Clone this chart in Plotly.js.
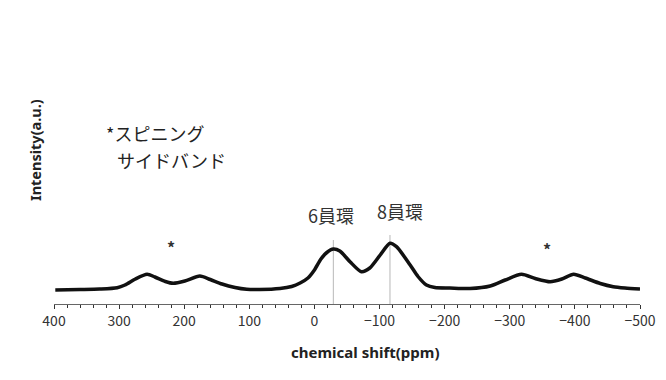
<!DOCTYPE html>
<html>
<head>
<meta charset="utf-8">
<script src="https://cdn.plot.ly/plotly-3.0.1.min.js"></script>
<style>html,body{margin:0;padding:0;background:#fff;}#chart{width:666px;height:380px;}</style>
</head>
<body>
<div id="chart"></div>
<script>
// chemical shift (ppm) and intensity (a.u.)
var shiftPpm = [398, 360, 330, 303, 291, 275, 257, 245, 229, 217, 199, 176, 160, 142, 122, 104, 84, 53, 35, 22, 10, 0, -10, -19, -29, -39, -55, -72, -85, -101, -116, -126, -147, -159, -172, -185, -208, -239, -270, -293, -318, -339, -362, -380, -398, -416, -439, -459, -477, -500];
var intensity = [14, 14.5, 15, 16.3, 19, 25, 29.7, 27, 22.5, 20.7, 23, 28, 24.5, 20, 16.5, 14.7, 14.5, 15.5, 17.5, 21, 26, 34, 45, 51.5, 55, 53, 42, 32.3, 36, 49, 60.7, 57.3, 39, 27.5, 19, 16.5, 16, 15.5, 18, 24, 29.7, 25.5, 22.3, 25, 29.7, 26, 20.5, 17.3, 16, 15];

var ringPositions = [-29, -116];
var ringLineTops = [64, 69];
var ringLabels = ['6員環', '8員環'];
var ringLabelX = [-25, -131];
var ringLabelY = [89, 93];

var sidebandMarkX = [221, -357];
var sidebandMarkY = [57, 55];

var xTickVals = [400, 300, 200, 100, 0, -100, -200, -300, -400, -500];

var traces = [];
for (var i = 0; i < ringPositions.length; i++) {
  traces.push({
    x: [ringPositions[i], ringPositions[i]],
    y: [0, ringLineTops[i]],
    mode: 'lines',
    line: {color: '#b8b8b8', width: 1},
    hoverinfo: 'skip', showlegend: false
  });
}
traces.push({
  x: shiftPpm, y: intensity, mode: 'lines',
  line: {color: '#111', width: 3.5, shape: 'spline', smoothing: 0.7},
  showlegend: false
});

var annotations = [];
for (var j = 0; j < ringLabels.length; j++) {
  annotations.push({x: ringLabelX[j], y: ringLabelY[j], xref: 'x', yref: 'y', text: ringLabels[j], showarrow: false,
    xanchor: 'center', yanchor: 'middle',
    font: {family: 'Noto Sans CJK JP', size: 18, color: '#333'}});
}
for (var k = 0; k < sidebandMarkX.length; k++) {
  annotations.push({x: sidebandMarkX[k], y: sidebandMarkY[k], xref: 'x', yref: 'y', text: '<b>*</b>', showarrow: false,
    xanchor: 'center', yanchor: 'middle',
    font: {family: 'Noto Sans CJK JP', size: 16, color: '#333'}});
}
annotations.push({x: 104, y: 133, xref: 'paper', yref: 'paper', xanchor: 'left', yanchor: 'middle', text: '*スピニング', showarrow: false,
  font: {family: 'Noto Sans CJK JP', size: 18, color: '#222'}});
annotations.push({x: 115, y: 160, xref: 'paper', yref: 'paper', xanchor: 'left', yanchor: 'middle', text: 'サイドバンド', showarrow: false,
  font: {family: 'Noto Sans CJK JP', size: 18, color: '#222'}});
annotations.push({x: 35, y: 150, text: '<b>Intensity(a.u.)</b>', textangle: -90, showarrow: false,
  xanchor: 'center', yanchor: 'middle',
  font: {family: 'Noto Sans', size: 14.5, color: '#222'}});
annotations.push({x: 365, y: 352, text: '<b>chemical shift(ppm)</b>', showarrow: false,
  xanchor: 'center', yanchor: 'middle',
  font: {family: 'Noto Sans', size: 15, color: '#222'}});

// convert pixel-positioned annotations to paper coords
var W = 666, H = 380, L = 54, R = 26, T = 40, B = 76;
var pw = W - L - R, ph = H - T - B;
annotations.forEach(function (a) {
  if (a.xref === undefined || a.xref === 'paper') {
    a.xref = 'paper'; a.yref = 'paper';
    a.x = (a.x - L) / pw; a.y = 1 - (a.y - T) / ph;
  }
});

var layout = {
  width: W, height: H,
  margin: {l: L, r: R, t: T, b: B, pad: 0},
  paper_bgcolor: '#fff', plot_bgcolor: '#fff',
  xaxis: {
    range: [400, -500], tickvals: xTickVals, ticks: 'outside', ticklen: 4, tickwidth: 1, tickcolor: '#333',
    showline: true, linecolor: '#666', linewidth: 1, showgrid: false, zeroline: false,
    tickfont: {family: 'Noto Sans CJK JP', size: 14, color: '#333'},
    minor: {dtick: 20, ticks: 'outside', ticklen: 3, tickcolor: '#333', showgrid: false}
  },
  yaxis: {range: [0, 264], visible: false, showgrid: false, zeroline: false},
  annotations: annotations
};
Plotly.newPlot('chart', traces, layout, {displayModeBar: false, staticPlot: true});
</script>
</body>
</html>
